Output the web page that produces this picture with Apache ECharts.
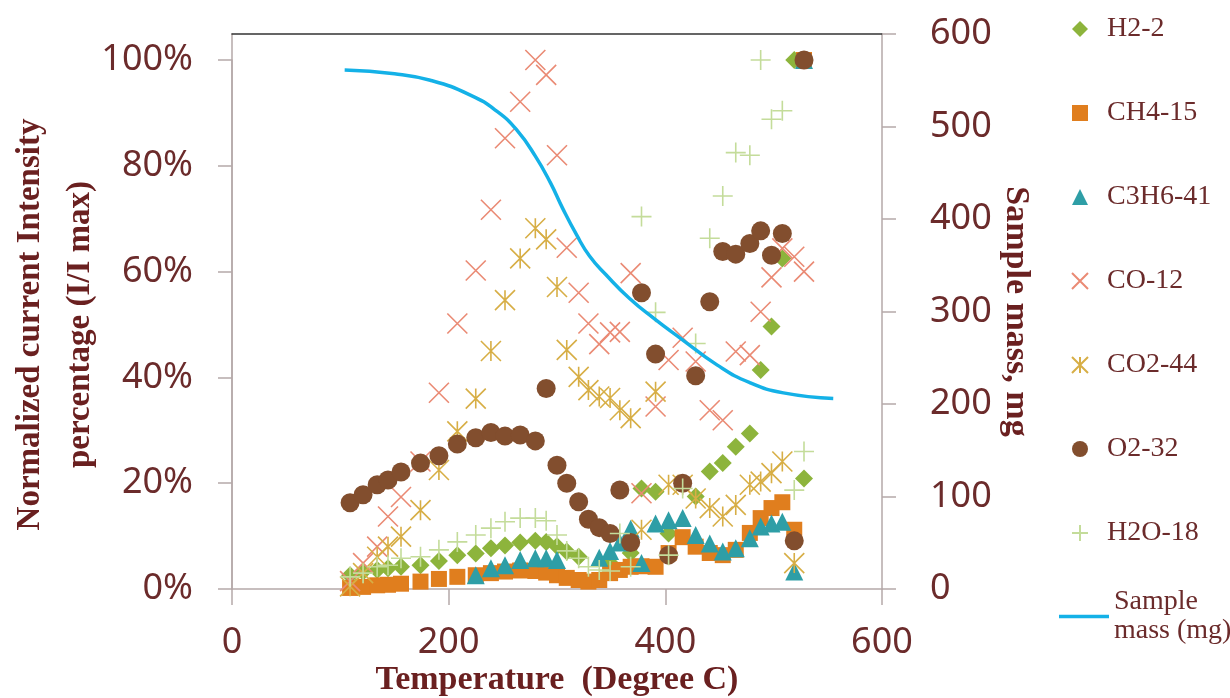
<!DOCTYPE html>
<html>
<head>
<meta charset="utf-8">
<script src="https://cdn.jsdelivr.net/npm/echarts@6/dist/echarts.min.js"></script>
<style>
  html, body { margin: 0; padding: 0; background: #fff; }
  #chart { width: 1230px; height: 698px; }
</style>
</head>
<body>
<div id="chart"></div>
<script>
// temperature of each measurement (Degree C), shared by all gases
const temps = [109, 121, 134, 144, 156, 174, 191, 208, 225, 239, 252, 266, 280, 290, 300, 309, 320, 329,
  339, 349, 358, 368, 378, 391, 403, 416, 428, 441, 453, 465, 478, 488, 498, 508, 519, 528]

// normalized intensity, % (null = not visible in the original)
const h2 = [2.6, 3.3, 3.6, 3.9, 4.2, 4.5, 5.3, 6.4, 6.7, 7.7, 8.2, 8.8, 9.1, 8.9, 8.1, 7.1, 6.1, null,
  null, 4.9, null, 6.8, 19.0, 18.4, 10.5, null, 17.5, 22.2, 23.8, 26.9, 29.4, 41.4, 49.6, 62.5, 100, 20.9]
const ch4 = [0.2, 0.4, 0.7, 0.8, 1.0, 1.4, 1.9, 2.3, 2.6, 3.0, 3.3, 3.5, 3.4, 3.1, 2.6, 2.1, 1.7, 1.4,
  1.7, 3.0, 3.6, 4.2, 4.3, 4.2, 6.8, 9.8, 8.0, 6.8, 6.4, 7.4, 10.6, 13.4, 15.3, 16.4, 11.2, 100]
const c3h6 = [null, null, null, null, null, null, null, null, 2.6, 3.9, 4.5, 5.5, 5.8, 5.8, 5.5, null, null, null,
  5.9, 7.2, 8.8, 11.4, 4.9, 12.4, 13.0, 13.4, 10.2, 8.6, 7.1, 7.7, 9.6, 11.8, 12.4, 12.7, 3.3, 100]
const co = [1.5, 4.9, 8.0, 13.7, 17.4, 24.1, 37.1, 50.2, 60.2, 71.7, 85.2, 92.1, 100, 97.2, 82.0, 64.5, 56.0, 50.2,
  46.3, 48.5, 48.6, 59.7, 18.1, 34.5, 43.3, 47.5, 43.0, 33.8, 31.9, 44.9, 44.2, 52.4, 58.9, 64.4, 62.8, 60.0]
const co2 = [0.5, 3.0, 6.1, 8.0, 9.9, 14.9, 22.5, 29.8, 36.0, 45.0, 54.6, 62.5, 68.2, 66.1, 57.1, 45.2, 40.1, 37.6,
  36.4, 36.1, 33.8, 32.3, 11.2, 37.3, 19.7, 19.7, 17.1, 15.3, 13.7, 15.9, 19.7, 20.3, 21.9, 24.1, 4.9, null]
const o2 = [16.3, 17.8, 19.7, 20.6, 22.1, 23.8, 25.2, 27.4, 28.6, 29.6, 28.9, 29.1, 28.0, 37.9, 23.4, 20.0, 16.5, 13.2,
  11.6, 10.5, 18.7, 8.8, 56.0, 44.4, 6.4, 20.0, 40.3, 54.3, 63.8, 63.3, 65.3, 67.7, 63.1, 67.2, 9.1, 100]
const h2o = [2.3, 3.0, 4.2, 4.5, 5.8, 6.1, 7.4, 8.9, 10.2, 11.5, 12.7, 13.4, 13.4, 12.9, 10.2, 7.2, 5.8, 4.2,
  3.6, 3.4, 10.5, 4.2, 70.4, 52.3, 6.4, 19.0, 46.4, 66.3, 74.3, 82.5, 82.0, 100, 88.8, 90.4, 18.7, 26.0]

// sample mass curve (right axis, mg)
const massTemps = [104, 150, 183, 220, 245, 263, 280, 294, 305, 318, 330, 345, 367, 390, 414, 448, 478, 509, 555]
const mass = [561, 557, 550, 534, 516, 496, 468, 439, 412, 383, 360, 340, 314, 292, 271, 242, 223, 212, 206]

const tickLabels = ['0', '200', '400', '600']

const labelColor = '#6b2b2b'
const titleColor = '#6a2020'
const axisGray = '#b5a9a9'

const pts = (ys) => temps.map((t, i) => [t, ys[i]]).filter(p => p[1] != null)

// open symbols drawn as strokes
const crossPath = 'path://M0,0L10,10M10,0L0,10'
const starPath = 'path://M0,0L10,10M10,0L0,10M5,0L5,10'
const plusPath = 'path://M5,0L5,10M0,5L10,5'

const filled = (color) => ({ color: color, opacity: 1 })
const stroked = (color) => ({ color: color, borderColor: color, borderWidth: 1.6, opacity: 1 })

const chart = echarts.init(document.getElementById('chart'))

const option = {
  animation: false,
  backgroundColor: '#fff',
  grid: [
    { left: 232, right: 348, top: 60, bottom: 109, outerBoundsMode: 'none' },
    { left: 232, right: 348, top: 34, bottom: 109, outerBoundsMode: 'none' }
  ],
  legend: [
    {
      orient: 'vertical',
      left: 1066,
      top: 10,
      itemWidth: 16,
      itemHeight: 16,
      itemGap: 56,
      data: ['H2-2', 'CH4-15', 'C3H6-41', 'CO-12', 'CO2-44', 'O2-32', 'H2O-18'],
      textStyle: { fontFamily: 'Liberation Serif', fontSize: 28, color: labelColor, lineHeight: 24, padding: [0, 0, 0, 14] }
    },
    {
      orient: 'vertical',
      left: 1054,
      top: 568,
      icon: 'rect',
      itemWidth: 50,
      itemHeight: 3.5,
      data: ['Sample mass (mg)'],
      formatter: () => 'Sample\nmass (mg)',
      textStyle: { fontFamily: 'Liberation Serif', fontSize: 28, color: labelColor, lineHeight: 29, padding: [29, 0, 0, 0] }
    }
  ],
  xAxis: [
    {
      gridIndex: 0,
      type: 'value',
      min: 0,
      max: 600,
      interval: 200,
      axisLine: { show: true, onZero: false, lineStyle: { color: axisGray, width: 1.5 } },
      axisTick: { show: true, length: 16, lineStyle: { color: axisGray, width: 1.5 } },
      axisLabel: {
        fontFamily: 'Noto Sans', fontSize: 36, color: labelColor, margin: 36,
        formatter: (v) => tickLabels[Math.round(v / 200)]
      },
      splitLine: { show: false },
      name: 'Temperature  (Degree C)',
      nameLocation: 'middle',
      nameGap: 74,
      nameMoveOverlap: false,
      nameTextStyle: { fontFamily: 'Liberation Serif', fontWeight: 'bold', fontSize: 34, color: titleColor }
    },
    {
      // top frame line
      gridIndex: 1,
      type: 'value',
      min: 0,
      max: 600,
      position: 'top',
      axisLine: { show: true, onZero: false, lineStyle: { color: '#333', width: 1.5 } },
      axisTick: { show: false },
      axisLabel: { show: false },
      splitLine: { show: false }
    }
  ],
  yAxis: [
    {
      gridIndex: 0,
      type: 'value',
      min: 0,
      max: 100,
      interval: 20,
      position: 'left',
      axisLine: { show: true, lineStyle: { color: axisGray, width: 1.5 } },
      axisTick: { show: true, length: 14, lineStyle: { color: axisGray, width: 1.5 } },
      axisLabel: { fontFamily: 'Noto Sans', fontSize: 36, color: labelColor, margin: 39, formatter: '{value}%' },
      splitLine: { show: false },
      name: 'Normalized current Intensity\npercentage (I/I max)',
      nameLocation: 'middle',
      nameGap: 127,
      nameMoveOverlap: false,
      nameTextStyle: { fontFamily: 'Liberation Serif', fontWeight: 'bold', fontSize: 33, lineHeight: 50, color: titleColor }
    },
    {
      // left frame line up to the top
      gridIndex: 1,
      type: 'value',
      min: 0,
      max: 600,
      position: 'left',
      axisLine: { show: true, lineStyle: { color: axisGray, width: 1.5 } },
      axisTick: { show: false },
      axisLabel: { show: false },
      splitLine: { show: false }
    },
    {
      gridIndex: 1,
      type: 'value',
      min: 0,
      max: 600,
      interval: 100,
      position: 'right',
      axisLine: { show: true, lineStyle: { color: axisGray, width: 1.5 } },
      axisTick: { show: true, length: 14, lineStyle: { color: axisGray, width: 1.5 } },
      axisLabel: { fontFamily: 'Noto Sans', fontSize: 36, color: labelColor, margin: 48 },
      splitLine: { show: false },
      name: 'Sample mass, mg',
      nameLocation: 'middle',
      nameRotate: -90,
      nameGap: 117,
      nameMoveOverlap: false,
      nameTextStyle: { fontFamily: 'Liberation Serif', fontWeight: 'bold', fontSize: 34, color: titleColor }
    }
  ],
  series: [
    {
      name: 'Sample mass (mg)', type: 'line', xAxisIndex: 1, yAxisIndex: 2,
      data: massTemps.map((t, i) => [t, mass[i]]),
      smooth: true, showSymbol: false, symbol: 'none',
      lineStyle: { color: '#14b1e7', width: 3.5 },
      itemStyle: { color: '#14b1e7' }
    },
    {
      name: 'H2-2', type: 'scatter', xAxisIndex: 0, yAxisIndex: 0,
      symbol: 'diamond', symbolSize: 18, data: pts(h2),
      itemStyle: filled('#8db43c')
    },
    {
      name: 'CH4-15', type: 'scatter', xAxisIndex: 0, yAxisIndex: 0,
      symbol: 'rect', symbolSize: 16, data: pts(ch4),
      itemStyle: filled('#e07e1e')
    },
    {
      name: 'C3H6-41', type: 'scatter', xAxisIndex: 0, yAxisIndex: 0,
      symbol: 'triangle', symbolSize: 18, data: pts(c3h6),
      itemStyle: filled('#2e9ea6')
    },
    {
      name: 'CO-12', type: 'scatter', xAxisIndex: 0, yAxisIndex: 0,
      symbol: crossPath, symbolSize: 20, data: pts(co),
      itemStyle: stroked('#ea8a74')
    },
    {
      name: 'CO2-44', type: 'scatter', xAxisIndex: 0, yAxisIndex: 0,
      symbol: starPath, symbolSize: 20, data: pts(co2),
      itemStyle: stroked('#d7ae45')
    },
    {
      name: 'O2-32', type: 'scatter', xAxisIndex: 0, yAxisIndex: 0,
      symbol: 'circle', symbolSize: 19, data: pts(o2),
      itemStyle: filled('#824e2e')
    },
    {
      name: 'H2O-18', type: 'scatter', xAxisIndex: 0, yAxisIndex: 0,
      symbol: plusPath, symbolSize: 20, data: pts(h2o),
      itemStyle: stroked('#c4dc9a')
    }
  ]
}

chart.setOption(option)
</script>
</body>
</html>
